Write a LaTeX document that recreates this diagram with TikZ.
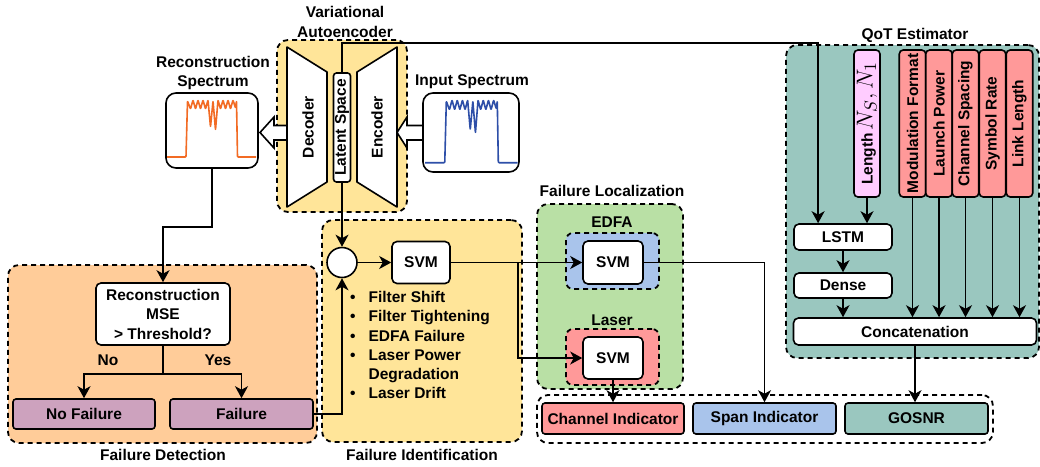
\documentclass[tikz,border=0pt]{standalone}
\usepackage{fontspec}
\setmainfont{Liberation Sans}
\usepackage{graphicx}
\usepackage{xcolor}
\definecolor{vaeyellow}{HTML}{FFE599}
\definecolor{detorange}{HTML}{FFCC99}
\definecolor{locgreen}{HTML}{B9E0A5}
\definecolor{edfablue}{HTML}{A9C4EB}
\definecolor{laserred}{HTML}{FF9999}
\definecolor{qotteal}{HTML}{9AC7BF}
\definecolor{failpurple}{HTML}{CDA2BE}
\definecolor{lenpink}{HTML}{FFCCFF}
\definecolor{specorange}{HTML}{F26B24}
\definecolor{specblue}{HTML}{2E4FA8}
\usetikzlibrary{arrows.meta,calc,positioning}

\begin{document}
\begin{tikzpicture}[x=1pt, y=-1pt,
    font=\fontsize{15.5}{19.5}\selectfont\bfseries,
    box/.style={draw, line width=1.6pt, rounded corners=5pt, fill=white, align=center, inner sep=0pt},
    group/.style={draw, line width=1.8pt, dash pattern=on 5pt off 4pt, rounded corners=11pt, inner sep=0pt},
    conn/.style={line width=1.7pt, -{Stealth[length=12pt, width=13pt, inset=3.5pt]}},
    wire/.style={line width=1.7pt},
    trap/.style={draw, line width=1.6pt, fill=white, line join=round},
    hollow/.style={draw, line width=1.6pt, fill=white, line join=miter},
    spectrum/.pic={
        \draw[line width=1.6pt, line join=round, rounded corners=0.8pt]
            (0,57) -- (19,57) -- (20.5,1) -- (23.5,9) -- (26,0) -- (28.5,9) -- (31,0)
            -- (33.5,9) -- (36,0) -- (38.5,9) -- (41,0) -- (43.5,27) -- (46,1) -- (48.5,30)
            -- (51,0) -- (53.5,9) -- (56,0) -- (58.5,9) -- (61,0) -- (63.5,9) -- (66,0)
            -- (68.5,8) -- (69.5,1) -- (70.5,57) -- (89,57);
    }
]
    \useasboundingbox (0,0) rectangle (1040,466);

    % Dashed groups
    \node[group, fill=vaeyellow, minimum width=130, minimum height=172] (vae) at (342,126) {};
    \node[group, fill=detorange, minimum width=309, minimum height=178] (fdet) at (162.5,354) {};
    \node[group, fill=vaeyellow, minimum width=200, minimum height=222] (fid) at (422,331) {};
    \node[group, fill=locgreen, minimum width=146, minimum height=185] (floc) at (610,296.5) {};
    \node[group, fill=edfablue, rounded corners=7pt, minimum width=93, minimum height=56] (edfagrp) at (612.5,261) {};
    \node[group, fill=laserred, rounded corners=7pt, minimum width=93, minimum height=56] (lasergrp) at (612.5,357) {};
    \node[group, fill=qotteal, minimum width=253, minimum height=313] (qot) at (912.5,201.5) {};
    \node[group, minimum width=456, minimum height=48] (outs) at (765,419) {};

    % Group titles
    \node[align=center] at (345,22) {Variational\\Autoencoder};
    \node[align=center] at (213,73) {Reconstruction\\Spectrum};
    \node at (472,82) {Input Spectrum};
    \node at (915,35) {QoT Estimator};
    \node at (612,191) {Failure Localization};
    \node at (612,222) {EDFA};
    \node at (612,320) {Laser};
    \node at (163,455) {Failure Detection};
    \node at (422,455) {Failure Identification};

    % Block arrows into and out of the autoencoder
    \draw[hollow] (423,125.5) -- (407,125.5) -- (407,117) -- (397,132.5) -- (407,148) -- (407,140) -- (423,140);
    \draw[hollow] (287,125.5) -- (274,125.5) -- (274,117) -- (260,132.5) -- (274,148) -- (274,140) -- (287,140);

    % Spectra
    \node[box, rounded corners=10pt, minimum width=92, minimum height=75] (recon) at (212,130.5) {};
    \node[box, rounded corners=10pt, minimum width=96, minimum height=79] (input) at (471,132.5) {};
    \pic[specorange] at (167,100) {spectrum};
    \pic[specblue, xscale=1.04, yscale=1.1] at (425,100) {spectrum};

    % Encoder / latent / decoder
    \draw[trap] (287,47) -- (327,72) -- (327,182) -- (287,207) -- cycle;
    \draw[trap] (357,72) -- (397,47) -- (397,207) -- (357,182) -- cycle;
    \node[rotate=90] (dec) at (308,127) {Decoder};
    \node[rotate=90] (enc) at (377,127) {Encoder};
    \node[box, rounded corners=3pt, minimum width=17, minimum height=109] (latent) at (342,127.5) {\rotatebox{90}{Latent Space}};

    % Failure detection
    \node[box, minimum width=134, minimum height=62] (mse) at (163,314) {Reconstruction\\MSE\\> Threshold?};
    \node[box, fill=failpurple, rounded corners=3pt, minimum width=142, minimum height=30] (nofail) at (84,414) {No Failure};
    \node[box, fill=failpurple, rounded corners=3pt, minimum width=143, minimum height=30] (fail) at (241.5,414) {Failure};
    \node at (108,360) {No};
    \node at (218,360) {Yes};

    % Failure identification
    \node[circle, draw, fill=white, line width=1.6pt, minimum size=30, inner sep=0pt] (sum) at (342,262.5) {};
    \node[box, minimum width=58, minimum height=42] (svmid) at (421,262.5) {SVM};
    \node[anchor=north west, inner sep=0pt, align=left, font=\fontsize{15.5}{19.3}\selectfont\bfseries] (faults) at (350,291)
        {\textbullet\hspace{13pt}Filter Shift\\
         \textbullet\hspace{13pt}Filter Tightening\\
         \textbullet\hspace{13pt}EDFA Failure\\
         \textbullet\hspace{13pt}Laser Power\\
         \phantom{\textbullet}\hspace{13pt}Degradation\\
         \textbullet\hspace{13pt}Laser Drift};

    % Failure localization
    \node[box, minimum width=60, minimum height=43] (svmedfa) at (613,262.5) {SVM};
    \node[box, minimum width=60, minimum height=42] (svmlaser) at (613,358) {SVM};

    % Outputs
    \node[box, fill=laserred, rounded corners=3pt, minimum width=142, minimum height=31] (chan) at (613,418.5) {Channel Indicator};
    \node[box, fill=edfablue, rounded corners=3pt, minimum width=143, minimum height=31] (span) at (764.5,418.5) {Span Indicator};
    \node[box, fill=qotteal, rounded corners=3pt, minimum width=143, minimum height=31] (gosnr) at (916.5,418.5) {GOSNR};

    % QoT estimator
    \node[box, minimum width=98, minimum height=26] (lstm) at (843,237) {LSTM};
    \node[box, minimum width=98, minimum height=25] (dense) at (843,285.5) {Dense};
    \node[box, minimum width=243, minimum height=27] (concat) at (915,331.5) {Concatenation};
    \node[box, fill=lenpink, rounded corners=4pt, minimum width=26, minimum height=147] (length) at (867,123.5)
        {\rotatebox{90}{Length\,\scalebox{1.6}{$N_S, N_1$}}};
    \foreach \name/\txt/\xc in {modf/Modulation Format/912.5, lpow/Launch Power/939, chsp/Channel Spacing/965.5, symr/Symbol Rate/992.5, llen/Link Length/1019.5} {
        \node[box, fill=laserred, rounded corners=4pt, minimum width=26.5, minimum height=147] (\name) at (\xc,123.5) {\rotatebox{90}{\txt}};
        \draw[conn] (\name.south) -- (\name.south |- concat.north);
    }
    \coordinate (lstmin) at ($(lstm.north west)!0.25!(lstm.north east)$);

    % Connectors
    \draw[conn] (latent.north) -- (latent.north |- 0,43) -| (lstmin);
    \draw[conn] (latent.south) -- (sum.north);
    \draw[conn] (recon.south) -- ++(0,58) -| (mse.north);
    \draw[wire] (mse.south) -- ++(0,28) coordinate (split);
    \draw[conn] (split) -| (nofail.north);
    \draw[conn] (split) -| (fail.north);
    \draw[conn] (fail.east) -| (sum.south);
    \draw[conn] (sum.east) -- (svmid.west);
    \draw[conn] (svmid.east) -- (svmedfa.west);
    \draw[conn] (svmid.east) -- ++(67,0) |- (svmlaser.west);
    \draw[conn] (svmedfa.east) -| (span.north);
    \draw[conn] (svmlaser.south) -- (chan.north);
    \draw[conn] (length.south) -- (length.south |- lstm.north);
    \draw[conn] (lstm.south) -- (dense.north);
    \draw[conn] (dense.south) -- (dense.south |- concat.north);
    \draw[conn] (concat.south) -- (concat.south |- gosnr.north);
\end{tikzpicture}
\end{document}
